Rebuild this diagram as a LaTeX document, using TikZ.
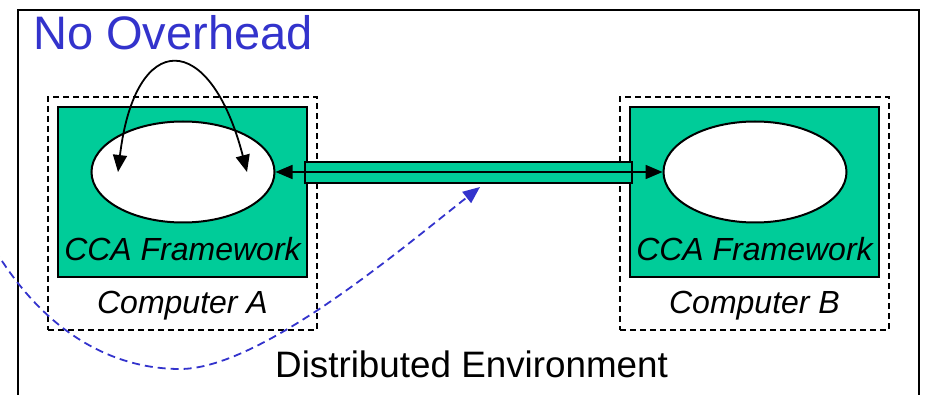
\documentclass[tikz,border=0pt]{standalone}
\usepackage{fontspec}
\setmainfont{Liberation Sans}
\usepackage{tikz}
\usepackage{xcolor}
\usetikzlibrary{arrows.meta,positioning,shapes.geometric}
\definecolor{ccagreen}{HTML}{00CC99}
\definecolor{overblue}{HTML}{3333CC}
\tikzset{
    machine-box/.style = {draw=black, line width=1.8pt, dash pattern=on 6pt off 4pt, rectangle, minimum width=269pt, minimum height=233pt, inner sep=0pt},
    framework-box/.style = {draw=black, fill=ccagreen, line width=1.8pt, rectangle, minimum width=249pt, minimum height=170pt, inner sep=0pt},
    component/.style = {draw=black, fill=white, line width=2pt, ellipse, minimum width=183pt, minimum height=101pt, inner sep=0pt},
    link-bar/.style = {draw=black, fill=ccagreen, line width=2.2pt, rectangle, minimum width=327pt, minimum height=21pt, inner sep=0pt},
    box-text/.style = {font=\fontsize{32}{38}\selectfont\itshape, inner sep=0pt, anchor=base},
    title-text/.style = {text=overblue, font=\fontsize{47}{56}\selectfont, inner sep=0pt, anchor=base west},
    env-text/.style = {font=\fontsize{36.8}{44}\selectfont, inner sep=0pt, anchor=base west},
}

\begin{document}
\begin{tikzpicture}[x=1pt, y=-1pt, >={Triangle[length=17pt, width=14pt]}]
\useasboundingbox (0,0) rectangle (926,395);
% distributed environment frame
\draw[line width=1.8pt] (18,10) rectangle (919,420);
\node[title-text] (title) at (33,50) {No Overhead};
% computer A
\node[machine-box] (computer-a) at (182.5,213.5) {};
\node[framework-box] (framework-a) at (182.5,192) {};
\node[component] (comp-a) at (183,172) {};
\node[box-text] (label-fw-a) at ([yshift=17pt]framework-a.south) {CCA Framework};
\node[box-text] (label-pc-a) at ([yshift=17pt]computer-a.south) {Computer A};
% computer B
\node[machine-box] (computer-b) at (754.5,213.5) {};
\node[framework-box] (framework-b) at (754.5,192) {};
\node[component] (comp-b) at (755,172) {};
\node[box-text] (label-fw-b) at ([yshift=17pt]framework-b.south) {CCA Framework};
\node[box-text] (label-pc-b) at ([yshift=17pt]computer-b.south) {Computer B};
% link between the frameworks
\node[link-bar] (link) at (468.5,172.5) {};
\draw[<->, line width=1.8pt] (comp-a) -- (comp-b);
% call inside A
\coordinate (call-from) at (118,172);
\coordinate (call-to) at (247,172);
\draw[<->, line width=1.8pt] (call-from) .. controls (135,29) and (210,29) .. (call-to);
\node[env-text] (env-label) at (275,377) {Distributed Environment};
% drifting path
\coordinate (drift-start) at (-5,250);
\coordinate (drift-low) at (180,369);
\coordinate (drift-end) at (480,187);
\draw[overblue, ->, line width=1.8pt, dash pattern=on 8pt off 5pt] (drift-start) .. controls (50,340) and (120,369) .. (drift-low) .. controls (260,369) and (400,250) .. (drift-end);
\end{tikzpicture}
\end{document}
